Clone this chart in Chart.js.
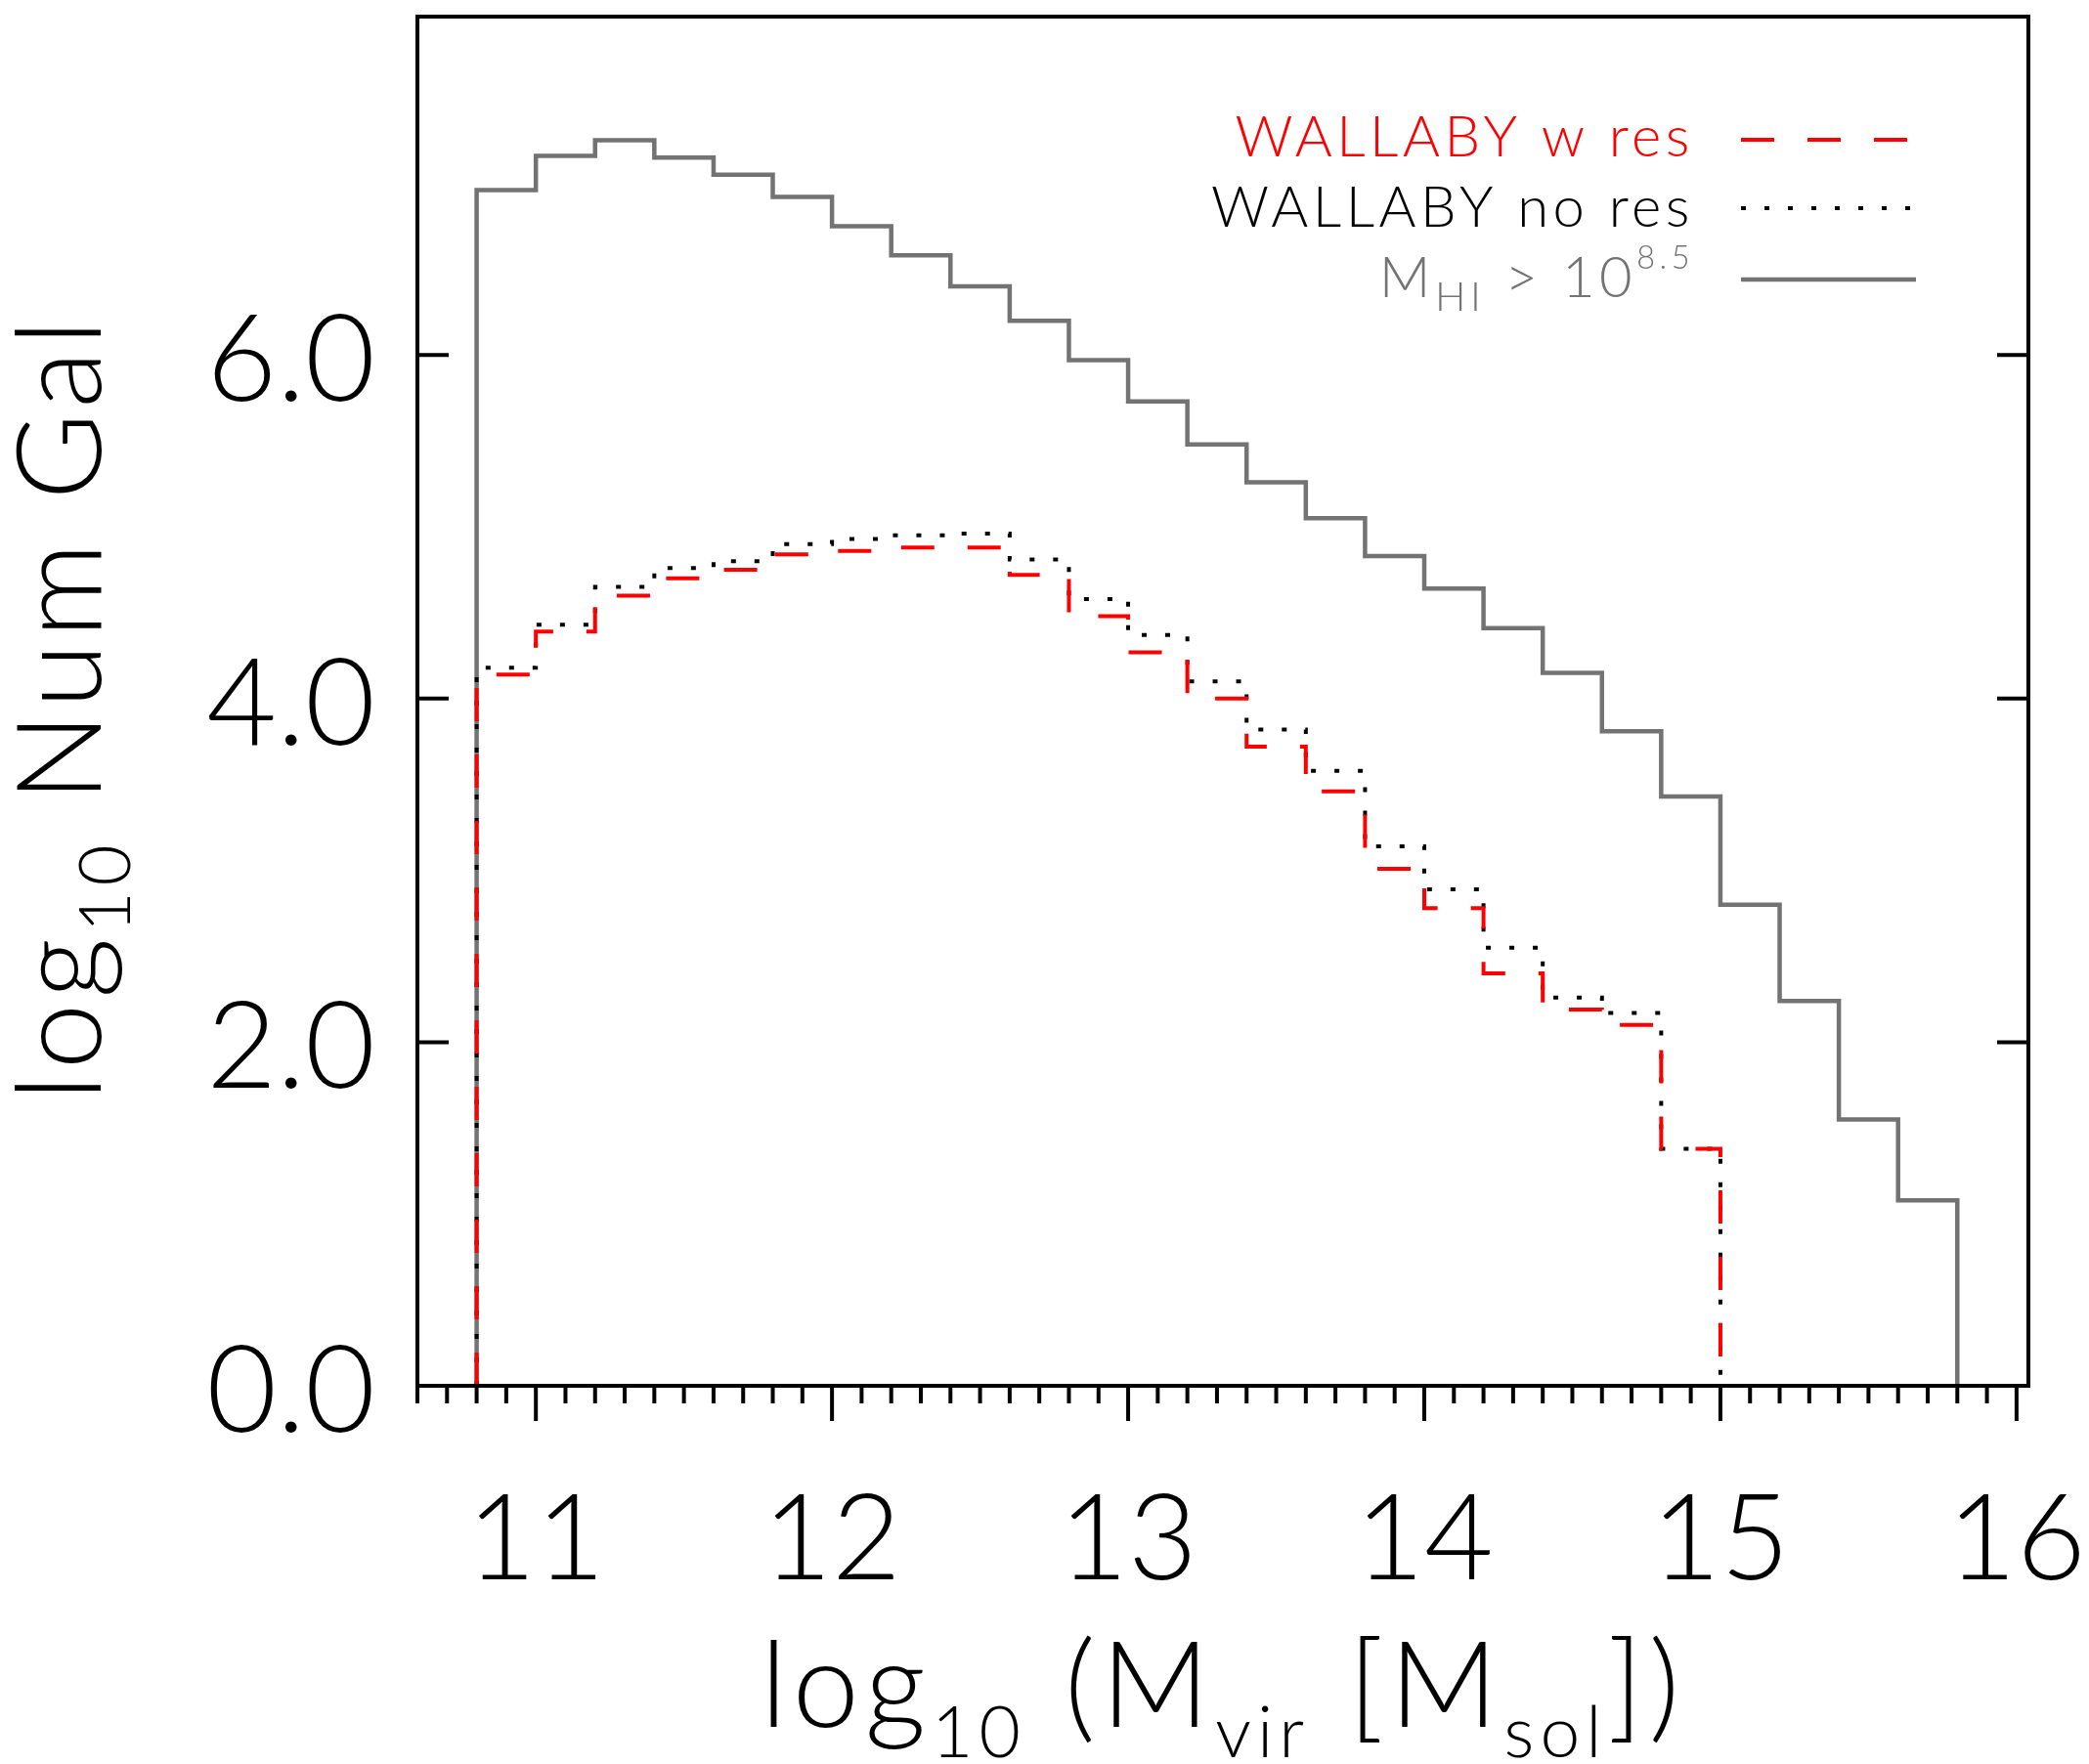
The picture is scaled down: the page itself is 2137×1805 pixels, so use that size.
<!DOCTYPE html>
<html>
<head>
<meta charset="utf-8">
<title>Halo mass distribution</title>
<script src="https://cdn.jsdelivr.net/npm/chart.js@4.4.1/dist/chart.umd.min.js"></script>
<style>
  html, body { margin: 0; padding: 0; background: #fff; }
  #wrap { width: 2137px; height: 1805px; }
</style>
</head>
<body>
<div id="wrap"><canvas id="myChart" width="2137" height="1805"></canvas></div>
<script>
// histogram bins in log10 Mvir, 0.2 dex wide
var binStart = 10.8;
var binWidth = 0.2;

// log10 number of galaxies in each bin
var wallabyRes   = [4.14, 4.39, 4.60, 4.70, 4.75, 4.84, 4.86, 4.88, 4.88, 4.72, 4.48,
                    4.27, 4.00, 3.72, 3.46, 3.01, 2.78, 2.40, 2.19, 2.10, 1.38];
var wallabyNoRes = [4.18, 4.43, 4.65, 4.76, 4.80, 4.90, 4.93, 4.95, 4.96, 4.81, 4.58,
                    4.37, 4.10, 3.82, 3.58, 3.14, 2.89, 2.55, 2.26, 2.17, 1.38];
var hiCut        = [6.96, 7.16, 7.25, 7.15, 7.05, 6.92, 6.75, 6.58, 6.40, 6.20, 5.97, 5.73,
                    5.48, 5.26, 5.05, 4.83, 4.64, 4.41, 4.15, 3.81, 3.43, 2.80, 2.24, 1.55, 1.08];

var xTicks = [11, 12, 13, 14, 15, 16];
var yTicks = [0, 2, 4, 6];
var xMinorStep = 0.1;

var FONT = "Lato, 'Liberation Sans', sans-serif";

// turn bin heights into an outline that starts and ends on zero
function histPoints(vals) {
  var pts = [{x: binStart, y: 0}];
  vals.forEach(function (v, i) {
    pts.push({x: +(binStart + i * binWidth).toFixed(2), y: v});
  });
  pts.push({x: +(binStart + vals.length * binWidth).toFixed(2), y: 0});
  return pts;
}

// pieces are [text, kind]: n = normal, b = subscript, p = superscript
function pieceStyle(kind, st) {
  if (kind === 'b') return {size: st.size * st.sub, dy: st.size * st.subShift};
  if (kind === 'p') return {size: st.size * st.sup, dy: -st.size * st.supShift};
  return {size: st.size, dy: 0};
}
function partsWidth(ctx, parts, st) {
  var w = 0;
  ctx.letterSpacing = st.spacing + 'px';
  parts.forEach(function (p) {
    ctx.font = '300 ' + pieceStyle(p[1], st).size + 'px ' + FONT;
    w += ctx.measureText(p[0]).width;
  });
  return w;
}
function drawParts(ctx, parts, x, y, st) {
  ctx.letterSpacing = st.spacing + 'px';
  parts.forEach(function (p) {
    var ps = pieceStyle(p[1], st);
    ctx.font = '300 ' + ps.size + 'px ' + FONT;
    ctx.fillText(p[0], x, y + ps.dy);
    x += ctx.measureText(p[0]).width;
  });
  return x;
}

var titleStyle  = {size: 122, sub: 0.6, subShift: 0.25, spacing: 6};
var ytitleStyle = {size: 121, sub: 0.6, subShift: 0.25, spacing: 5.5};
var legendStyle = {size: 58, sub: 0.72, subShift: 0.24, sup: 0.56, supShift: 0.5, spacing: 4.5};

var framePlugin = {
  id: 'frame',
  afterDatasetsDraw: function (chart) {
    var ctx = chart.ctx, a = chart.chartArea;
    var xs = chart.scales.x, ys = chart.scales.y;
    ctx.save();
    ctx.strokeStyle = '#000';
    ctx.lineWidth = 4;
    ctx.strokeRect(a.left, a.top, a.right - a.left, a.bottom - a.top);
    ctx.beginPath();
    // bottom ticks, every 0.1 with longer ones on whole numbers
    for (var v = xs.min; v <= 16.0001; v += xMinorStep) {
      var val = Math.round(v * 10) / 10;
      var px = xs.getPixelForValue(val);
      var len = Math.abs(val - Math.round(val)) < 1e-6 ? 36 : 18;
      ctx.moveTo(px, a.bottom);
      ctx.lineTo(px, a.bottom + len);
    }
    // y ticks point inwards from both sides
    yTicks.forEach(function (t) {
      if (t === 0) return;
      var py = ys.getPixelForValue(t);
      ctx.moveTo(a.left, py); ctx.lineTo(a.left + 32, py);
      ctx.moveTo(a.right, py); ctx.lineTo(a.right - 32, py);
    });
    ctx.stroke();
    ctx.restore();
  },
  afterDraw: function (chart) {
    var ctx = chart.ctx, a = chart.chartArea;
    ctx.save();
    ctx.fillStyle = '#000';
    ctx.textAlign = 'left';
    ctx.textBaseline = 'alphabetic';

    // x axis title
    var xt = [['log', 'n'], ['10', 'b'], [' (M', 'n'], ['vir', 'b'], [' [M', 'n'], ['sol', 'b'], ['])', 'n']];
    var w = partsWidth(ctx, xt, titleStyle);
    drawParts(ctx, xt, (a.left + a.right) / 2 - w / 2, 1767, titleStyle);

    // y axis title, reading upwards
    var yt = [['log', 'n'], ['10', 'b'], [' Num Gal', 'n']];
    var wy = partsWidth(ctx, yt, ytitleStyle);
    ctx.save();
    ctx.translate(103, 724 + wy / 2);
    ctx.rotate(-Math.PI / 2);
    drawParts(ctx, yt, 0, 0, ytitleStyle);
    ctx.restore();

    // legend: label on the left, line sample on the right
    var rowY = [143, 213, 286];
    var baseY = [160, 232, 304];
    chart.data.datasets.forEach(function (ds, i) {
      ctx.fillStyle = ds.borderColor;
      var lw = partsWidth(ctx, ds.labelParts, legendStyle);
      drawParts(ctx, ds.labelParts, 1733 - lw, baseY[i], legendStyle);
      ctx.save();
      ctx.strokeStyle = ds.borderColor;
      ctx.lineWidth = ds.borderWidth;
      ctx.setLineDash(ds.borderDash || []);
      ctx.beginPath();
      ctx.moveTo(1781, rowY[i]);
      ctx.lineTo(1960, rowY[i]);
      ctx.stroke();
      ctx.restore();
    });
    ctx.letterSpacing = '0px';
    ctx.restore();
  }
};

var myChart = document.getElementById('myChart').getContext('2d');

var chart = new Chart(myChart, {
  type: 'line',
  data: {
    datasets: [
      {
        label: 'WALLABY w res',
        labelParts: [['WALLABY w res', 'n']],
        data: histPoints(wallabyRes),
        borderColor: '#ff0000',
        borderWidth: 4,
        borderDash: [34, 34],
        borderCapStyle: 'butt'
      },
      {
        label: 'WALLABY no res',
        labelParts: [['WALLABY no res', 'n']],
        data: histPoints(wallabyNoRes),
        borderColor: '#000000',
        borderWidth: 4,
        borderDash: [5, 19],
        borderCapStyle: 'butt'
      },
      {
        label: 'M_HI > 10^8.5',
        labelParts: [['M', 'n'], ['HI', 'b'], [' > 10', 'n'], ['8.5', 'p']],
        data: histPoints(hiCut),
        borderColor: '#737373',
        borderWidth: 4.5
      }
    ]
  },
  options: {
    responsive: false,
    devicePixelRatio: 1,
    animation: false,
    layout: { padding: { top: 17, right: 62, left: 0, bottom: 0 } },
    elements: {
      line: { stepped: 'before', tension: 0, fill: false },
      point: { radius: 0, hoverRadius: 0 }
    },
    plugins: {
      legend: { display: false },
      tooltip: { enabled: false }
    },
    scales: {
      x: {
        type: 'linear',
        min: 10.6,
        max: 16.04,
        afterFit: function (s) {
          s.height = 387;
          s.paddingLeft = 0; s.paddingRight = 0;
        },
        afterBuildTicks: function (s) { s.ticks = xTicks.map(function (v) { return {value: v}; }); },
        grid: { display: false },
        border: { display: false },
        ticks: {
          autoSkip: false,
          maxRotation: 0,
          color: '#000',
          padding: 90,
          font: { family: FONT, size: 122, weight: '300', lineHeight: 1 },
          callback: function (v) { return String(v); }
        }
      },
      y: {
        min: 0,
        max: 7.97,
        afterFit: function (s) {
          s.width = 427;
          s.paddingTop = 0; s.paddingBottom = 0;
        },
        afterBuildTicks: function (s) { s.ticks = yTicks.map(function (v) { return {value: v}; }); },
        grid: { display: false },
        border: { display: false },
        ticks: {
          color: '#000',
          padding: 35,
          labelOffset: 7,
          font: { family: FONT, size: 124, weight: '300', lineHeight: 1 },
          callback: function (v) { return v.toFixed(1); }
        }
      }
    }
  },
  plugins: [framePlugin]
});
</script>
</body>
</html>
